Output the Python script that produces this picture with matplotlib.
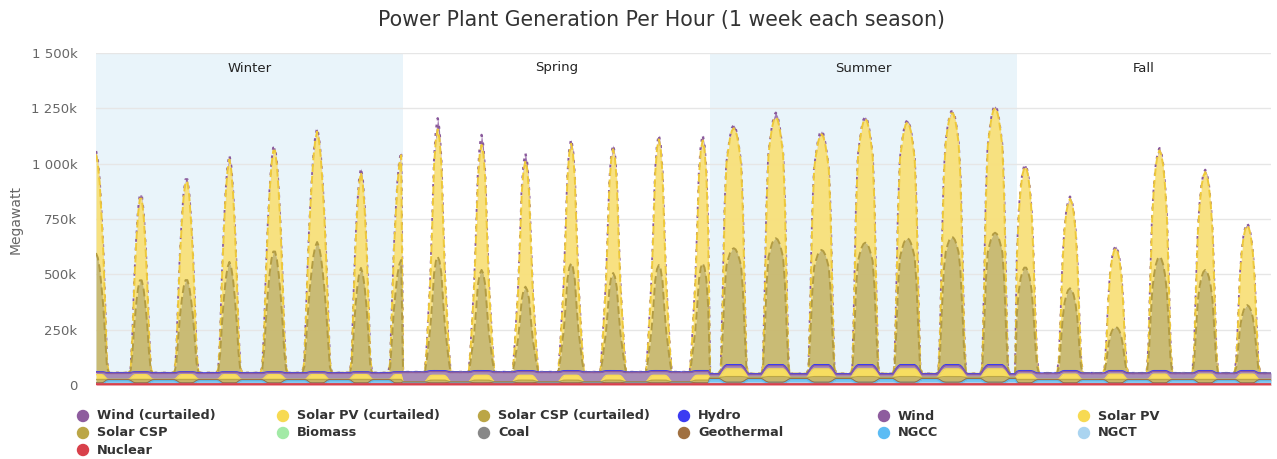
import numpy as np
import matplotlib
matplotlib.use("Agg")
import matplotlib.pyplot as plt

W, H = 1277, 459

# ---------------- data (MW) ----------------
season_names = ["Winter", "Spring", "Summer", "Fall"]
season_hours = [168, 168, 168, 140]

# hour (within each season week) of each daily solar peak
winter_peak_hour = [0, 24.5, 49.5, 73, 97.5, 121, 145, 167]
spring_peak_hour = [19, 43, 67, 92, 115, 140, 164]
summer_peak_hour = [13, 36, 61, 85, 108, 132.5, 156]
fall_peak_hour = [4.5, 29, 54, 78, 103, 126]

# top of the whole stack at each daily peak
winter_top = [1057e3, 881e3, 949e3, 1039e3, 1094e3, 1160e3, 980e3, 1053e3]
spring_top = [1205e3, 1130e3, 1047e3, 1110e3, 1085e3, 1130e3, 1130e3]
summer_top = [1175e3, 1230e3, 1148e3, 1212e3, 1197e3, 1243e3, 1261e3]
fall_top = [1002e3, 851e3, 628e3, 1070e3, 972e3, 731e3]

# top of curtailed Solar CSP at each daily peak
winter_csp_top = [596e3, 483e3, 483e3, 556e3, 614e3, 646e3, 529e3, 565e3]
spring_csp_top = [580e3, 520e3, 444e3, 550e3, 506e3, 542e3, 550e3]
summer_csp_top = [618e3, 663e3, 610e3, 643e3, 663e3, 670e3, 688e3]
fall_csp_top = [535e3, 437e3, 263e3, 580e3, 520e3, 361e3]

# curtailed wind at the tip of each daily peak
winter_wind_curt = [15e3, 20e3, 12e3, 20e3, 15e3, 15e3, 20e3, 15e3]
spring_wind_curt = [50e3, 45e3, 35e3, 20e3, 20e3, 20e3, 25e3]
summer_wind_curt = [15e3, 20e3, 15e3, 10e3, 10e3, 10e3, 10e3]
fall_wind_curt = [10e3, 10e3, 10e3, 10e3, 10e3, 10e3]

# relative width of each daily peak
winter_width = [1.0, 0.84, 0.95, 0.91, 1.0, 1.15, 0.85, 1.0]
spring_width = [1.0, 1.0, 1.0, 1.0, 1.0, 1.0, 1.0]
summer_width = [1.0, 1.0, 1.0, 1.0, 1.0, 1.0, 1.0]
fall_width = [1.0, 0.95, 0.9, 1.0, 1.0, 0.95]

# hourly profile of the curtailed solar around a peak (fraction of peak)
peak_offsets = list(range(-7, 8))
winter_shape = [0, 0.05, 0.30, 0.55, 0.72, 0.87, 0.96, 1.0, 0.96, 0.87, 0.72, 0.55, 0.30, 0.05, 0]
spring_shape = [0, 0.10, 0.24, 0.38, 0.60, 0.85, 0.96, 1.0, 0.96, 0.85, 0.60, 0.38, 0.24, 0.10, 0]
summer_shape = [0.02, 0.30, 0.65, 0.85, 0.91, 0.96, 0.99, 1.0, 0.99, 0.96, 0.91, 0.85, 0.65, 0.30, 0.02]
fall_shape = [0, 0.12, 0.42, 0.70, 0.84, 0.93, 0.98, 1.0, 0.98, 0.93, 0.84, 0.70, 0.42, 0.12, 0]
tip_offsets = [-3, -2, -1, 0, 1, 2, 3]
tip_shape = [0, 0.3, 0.75, 1.0, 0.75, 0.3, 0]

# daylight profile for the non-curtailed base generation
day_offsets = list(range(-8, 9))
winter_daylight = [0, 0, 0.1, 0.5, 0.9, 1, 1, 1, 1, 1, 1, 1, 0.9, 0.5, 0.1, 0, 0]
spring_daylight = [0, 0, 0.3, 0.7, 0.95, 1, 1, 1, 1, 1, 1, 1, 0.95, 0.7, 0.3, 0, 0]
summer_daylight = [0, 0.25, 0.6, 0.85, 1, 1, 1, 1, 1, 1, 1, 1, 1, 0.85, 0.6, 0.25, 0]
fall_daylight = [0, 0, 0.1, 0.5, 0.9, 1, 1, 1, 1, 1, 1, 1, 0.9, 0.5, 0.1, 0, 0]

# base generation per season [Winter, Spring, Summer, Fall] at night / during the day
nuclear_mw = [4000, 4000, 4000, 4000]
ngct_night = [3000, 1000, 6000, 3000]
ngct_day = [0, 0, 0, 0]
ngcc_night = [12000, 3000, 14000, 12000]
ngcc_day = [0, 0, 3000, 0]
geothermal_mw = [5000, 5000, 5000, 5000]
coal_mw = [300, 300, 300, 300]
biomass_mw = [500, 500, 500, 500]
csp_night = [0, 0, 4000, 0]
csp_day = [15000, 12000, 25000, 15000]
pv_night = [0, 0, 0, 0]
pv_day = [22000, 22000, 35000, 24000]
wind_night = [27000, 42000, 14000, 26000]
wind_day = [10000, 17000, 14000, 12000]
hydro_night = [3000, 3000, 3000, 3000]
hydro_day = [3000, 4000, 5000, 4000]

# ---------------- build hourly series ----------------
peak_hour_lists = [winter_peak_hour, spring_peak_hour, summer_peak_hour, fall_peak_hour]
top_lists = [winter_top, spring_top, summer_top, fall_top]
csp_top_lists = [winter_csp_top, spring_csp_top, summer_csp_top, fall_csp_top]
wc_lists = [winter_wind_curt, spring_wind_curt, summer_wind_curt, fall_wind_curt]
width_lists = [winter_width, spring_width, summer_width, fall_width]
shape_lists = [winter_shape, spring_shape, summer_shape, fall_shape]
daylight_lists = [winter_daylight, spring_daylight, summer_daylight, fall_daylight]

stack_order = ["Nuclear", "NGCT", "NGCC", "Geothermal", "Coal", "Biomass", "Solar CSP", "Solar PV",
               "Wind", "Hydro", "Solar CSP (curtailed)", "Solar PV (curtailed)", "Wind (curtailed)"]
series = {k: [] for k in stack_order}

for s in range(4):
    n = season_hours[s]
    t = np.arange(n)
    day = np.zeros(n)
    for h in peak_hour_lists[s]:
        day = np.maximum(day, np.interp(t - h, day_offsets, daylight_lists[s], left=0, right=0))

    def blend(night, dayv):
        return night[s] + (dayv[s] - night[s]) * day

    base = {
        "Nuclear": np.full(n, float(nuclear_mw[s])),
        "NGCT": blend(ngct_night, ngct_day),
        "NGCC": blend(ngcc_night, ngcc_day),
        "Geothermal": np.full(n, float(geothermal_mw[s])),
        "Coal": np.full(n, float(coal_mw[s])),
        "Biomass": np.full(n, float(biomass_mw[s])),
        "Solar CSP": blend(csp_night, csp_day),
        "Solar PV": blend(pv_night, pv_day),
        "Wind": blend(wind_night, wind_day),
        "Hydro": blend(hydro_night, hydro_day),
    }
    base_day_total = (nuclear_mw[s] + ngct_day[s] + ngcc_day[s] + geothermal_mw[s] + coal_mw[s]
                      + biomass_mw[s] + csp_day[s] + pv_day[s] + wind_day[s] + hydro_day[s])
    csp_c = np.zeros(n)
    pv_c = np.zeros(n)
    wind_c = np.zeros(n)
    for h, top, ctop, wc, wf in zip(peak_hour_lists[s], top_lists[s], csp_top_lists[s],
                                    wc_lists[s], width_lists[s]):
        prof = np.interp((t - h) / wf, peak_offsets, shape_lists[s], left=0, right=0)
        tip = np.interp(t - h, tip_offsets, tip_shape, left=0, right=0)
        csp_c += (ctop - base_day_total) * prof
        pv_c += (top - ctop - wc) * prof
        wind_c += wc * tip
    base["Solar CSP (curtailed)"] = csp_c
    base["Solar PV (curtailed)"] = pv_c
    base["Wind (curtailed)"] = wind_c
    for k in series:
        series[k].append(base[k])

for k in series:
    series[k] = np.concatenate(series[k])
N = len(series["Nuclear"])
x = np.arange(N)

# ---------------- styling ----------------
legend_order = ["Wind (curtailed)", "Solar PV (curtailed)", "Solar CSP (curtailed)", "Hydro", "Wind",
                "Solar PV", "Solar CSP", "Biomass", "Coal", "Geothermal", "NGCC", "NGCT", "Nuclear"]
legend_colors = {
    "Wind (curtailed)": "#8e5c9e", "Solar PV (curtailed)": "#f7da52", "Solar CSP (curtailed)": "#bba646",
    "Hydro": "#3b3bf2", "Wind": "#8e5c9e", "Solar PV": "#f7da52", "Solar CSP": "#bba646",
    "Biomass": "#a2eaa6", "Coal": "#878787", "Geothermal": "#a07040", "NGCC": "#5cbcf4",
    "NGCT": "#aad4f0", "Nuclear": "#d8404a",
}
fill_colors = {
    "Wind (curtailed)": "#9c70ac", "Solar PV (curtailed)": "#f8e07a", "Solar CSP (curtailed)": "#c8b86e",
    "Hydro": "#5050f0", "Wind": "#a487b4", "Solar PV": "#f8dc58", "Solar CSP": "#c6b262",
    "Biomass": "#a2eaa6", "Coal": "#878787", "Geothermal": "#a6784a", "NGCC": "#74c4f2",
    "NGCT": "#b0d8f2", "Nuclear": "#d8404a",
}
line_styles = {
    "Wind (curtailed)": ("#8a5a9c", (0, (1.2, 2.4)), 1.7),
    "Solar PV (curtailed)": ("#eec93a", (0, (4, 2)), 1.4),
    "Solar CSP (curtailed)": ("#b39c42", (0, (4, 2)), 1.4),
}

plt.rcParams['font.family'] = ['DejaVu Sans']
fig = plt.figure(figsize=(W / 100, H / 100), dpi=100)
ax = fig.add_axes([96 / W, 1 - 385 / H, (1271 - 96) / W, (385 - 53) / H])

band_color = "#e9f4fa"
season_start = np.cumsum([0] + season_hours)
ax.axvspan(season_start[0], season_start[1], color=band_color, lw=0, zorder=0)
ax.axvspan(season_start[2], season_start[3], color=band_color, lw=0, zorder=0)
for i, name in enumerate(season_names):
    mid = (season_start[i] + min(season_start[i + 1], N - 1)) / 2
    ax.text(mid, 1 - 15 / 332, name, transform=ax.get_xaxis_transform(), ha="center", va="center",
            fontsize=9.5, color="#222222", zorder=50)

ax.set_xlim(0, N - 1)
ax.set_ylim(0, 1500e3)
ticks = [0, 250e3, 500e3, 750e3, 1000e3, 1250e3, 1500e3]
ax.set_yticks(ticks)
ax.set_yticklabels(["0", "250k", "500k", "750k", "1 000k", "1 250k", "1 500k"])
ax.tick_params(axis="y", length=0, pad=13.5, labelsize=9.5, labelcolor="#666666")
ax.tick_params(axis="x", length=0, labelbottom=False)
ax.set_xticks([])
ax.grid(axis="y", color="#e6e6e6", lw=1, zorder=0.5)
ax.set_axisbelow(True)
for sp in ax.spines.values():
    sp.set_visible(False)

cum = np.zeros(N)
z = 30
for name in stack_order:
    vals = series[name]
    top = cum + vals
    ax.fill_between(x, cum, top, color=fill_colors[name], lw=0, zorder=z, alpha=0.95)
    if name in line_styles:
        c, ls, lw = line_styles[name]
        ax.plot(x, top, color=c, ls=ls, lw=lw, zorder=z + 0.5)
    else:
        lw = 2.0 if name == "Nuclear" else 1.0
        ax.plot(x, top, color=legend_colors[name], lw=lw, zorder=z + 0.5)
    cum = top
    z -= 1

fig.text(662 / W, 1 - 20 / H, "Power Plant Generation Per Hour (1 week each season)",
         ha="center", va="center", fontsize=14.8, color="#333333")
fig.text(16 / W, 1 - 219 / H, "Megawatt", rotation=90, ha="center", va="center",
         fontsize=10, color="#666666")

# legend (Highcharts style, row-major, fixed item width)
lax = fig.add_axes([0, 0, 1, 1])
lax.set_xlim(0, W)
lax.set_ylim(H, 0)
lax.axis("off")
col_x = [83, 283, 484, 684, 884, 1084]
row_y = [416, 433, 450]
for i, name in enumerate(legend_order):
    r, c = divmod(i, 6)
    lax.scatter([col_x[c]], [row_y[r]], s=80, color=legend_colors[name], edgecolors="none")
    lax.text(col_x[c] + 14, row_y[r], name, ha="left", va="center", fontsize=9.3,
             fontweight="bold", color="#333333")

fig.savefig("out.png", dpi=100)
